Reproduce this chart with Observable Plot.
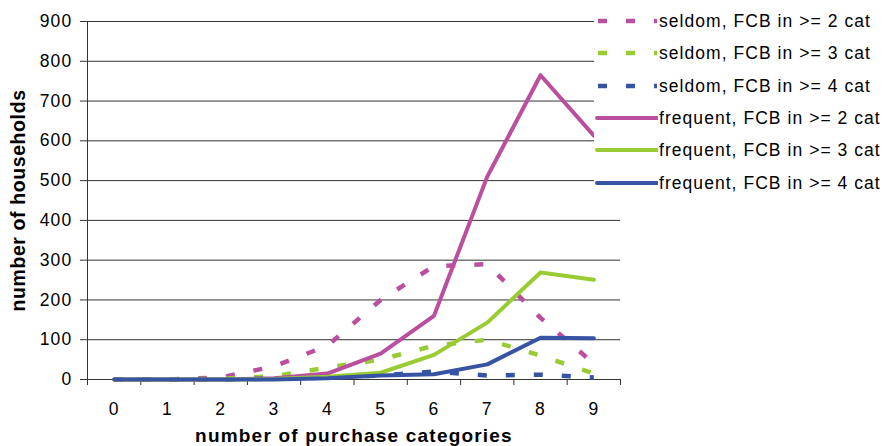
<!DOCTYPE html>
<html>
<head>
<meta charset="utf-8">
<script src="https://cdn.jsdelivr.net/npm/d3@7"></script>
<script src="https://cdn.jsdelivr.net/npm/@observablehq/plot@0.6"></script>
<style>
  body { margin: 0; background: white; }
  #wrap { position: relative; width: 886px; height: 446px; font-family: Arial, "Liberation Sans", sans-serif; }
  #legend { position: absolute; left: 594px; top: 0; width: 292px; height: 197px; background: white; }
  .row { position: absolute; left: 0; height: 24px; width: 292px; }
  .row svg { position: absolute; left: 0; top: 0; }
  .row span { position: absolute; left: 65px; top: 1px; font-size: 17.5px; letter-spacing: 1.05px; color: #000; white-space: nowrap; line-height: 22px; }
</style>
</head>
<body>
<div id="wrap"><div id="chart"></div><div id="legend"></div></div>
<script>
const categories = [0, 1, 2, 3, 4, 5, 6, 7, 8, 9];
const seldom2   = [0, 0, 5, 33, 85, 200, 285, 290, 155, 40];
const seldom3   = [0, 0, 2, 8, 30, 50, 85, 100, 60, 15];
const seldom4   = [0, 0, 0, 2, 5, 10, 20, 10, 12, 5];
const frequent2 = [0, 0, 0, 3, 15, 65, 160, 510, 765, 613];
const frequent3 = [0, 0, 0, 1, 7, 17, 62, 143, 269, 251];
const frequent4 = [0, 0, 0, 0, 3, 10, 13, 38, 105, 104];
const yTicks = [0, 100, 200, 300, 400, 500, 600, 700, 800, 900];
const seriesNames = [
  "seldom, FCB in >= 2 cat", "seldom, FCB in >= 3 cat", "seldom, FCB in >= 4 cat",
  "frequent, FCB in >= 2 cat", "frequent, FCB in >= 3 cat", "frequent, FCB in >= 4 cat"
];
const seriesValues = [seldom2, seldom3, seldom4, frequent2, frequent3, frequent4];
const seriesColors = ["#BA4FA0", "#99CC33", "#3753A4", "#BA4FA0", "#99CC33", "#3753A4"];
const seriesDashed = [true, true, true, false, false, false];
const xLabel = "number of purchase categories";
const yLabel = "number of households";

const DASH = "9,19";

const lineMarks = seriesNames.map((name, i) => {
  const data = categories.map((c, j) => ({x: c, y: seriesValues[i][j]}));
  return Plot.line(data, {
    x: "x", y: "y",
    stroke: seriesColors[i],
    strokeWidth: seriesDashed[i] ? 4.5 : 4,
    strokeDasharray: seriesDashed[i] ? DASH : null,
    strokeLinecap: seriesDashed[i] ? "butt" : "round",
    strokeLinejoin: "round"
  });
});

const chart = Plot.plot({
  width: 886,
  height: 446,
  marginLeft: 87,
  marginRight: 266,
  marginTop: 21,
  marginBottom: 67,
  x: {type: "linear", domain: [-0.5, 9.5]},
  y: {type: "linear", domain: [0, 900]},
  style: {fontFamily: "Arial, 'Liberation Sans', sans-serif", fontSize: "17px", color: "#000", background: "white"},
  marks: [
    Plot.gridY({ticks: yTicks, stroke: "#333", strokeOpacity: 1, strokeWidth: 1}),
    Plot.ruleX([-0.5], {stroke: "#333", strokeWidth: 1}),
    Plot.axisY({ticks: yTicks, tickSize: 7, tickPadding: 8, fontSize: 17.5, stroke: "#333", label: null}),
    Plot.axisX({ticks: d3.range(-0.5, 10, 1), tickSize: 6, tickFormat: () => "", stroke: "#333", label: null}),
    Plot.axisX({ticks: categories, tickSize: 0, tickPadding: 23, fontSize: 17.5, label: null}),
    ...lineMarks,
    Plot.text([xLabel], {text: d => d, frameAnchor: "bottom", dy: 62, fontSize: 19, fontWeight: "bold"}),
    Plot.text([yLabel], {text: d => d, frameAnchor: "left", textAnchor: "middle", dx: -69, rotate: -90, fontSize: 19.5, fontWeight: "bold"})
  ]
});
document.getElementById("chart").appendChild(chart);
chart.querySelectorAll("text").forEach(t => {
  if (t.textContent === xLabel) t.style.letterSpacing = "1.2px";
  if (t.textContent === yLabel) t.style.letterSpacing = "0.6px";
  if (/^\d+$/.test(t.textContent)) t.style.letterSpacing = "1.2px";
});

const legend = document.getElementById("legend");
seriesNames.forEach((name, i) => {
  const row = document.createElement("div");
  row.className = "row";
  row.style.top = (9 + i * 32.3) + "px";
  const ns = "http://www.w3.org/2000/svg";
  const svg = document.createElementNS(ns, "svg");
  svg.setAttribute("width", 64); svg.setAttribute("height", 24);
  const ln = document.createElementNS(ns, "line");
  ln.setAttribute("x1", seriesDashed[i] ? 4 : 3);
  ln.setAttribute("x2", 63);
  ln.setAttribute("y1", 12); ln.setAttribute("y2", 12);
  ln.setAttribute("stroke", seriesColors[i]);
  ln.setAttribute("stroke-width", seriesDashed[i] ? 4.5 : 4);
  if (seriesDashed[i]) ln.setAttribute("stroke-dasharray", DASH);
  else ln.setAttribute("stroke-linecap", "round");
  svg.appendChild(ln);
  row.appendChild(svg);
  const sp = document.createElement("span");
  sp.textContent = name;
  row.appendChild(sp);
  legend.appendChild(row);
});
</script>
</body>
</html>
